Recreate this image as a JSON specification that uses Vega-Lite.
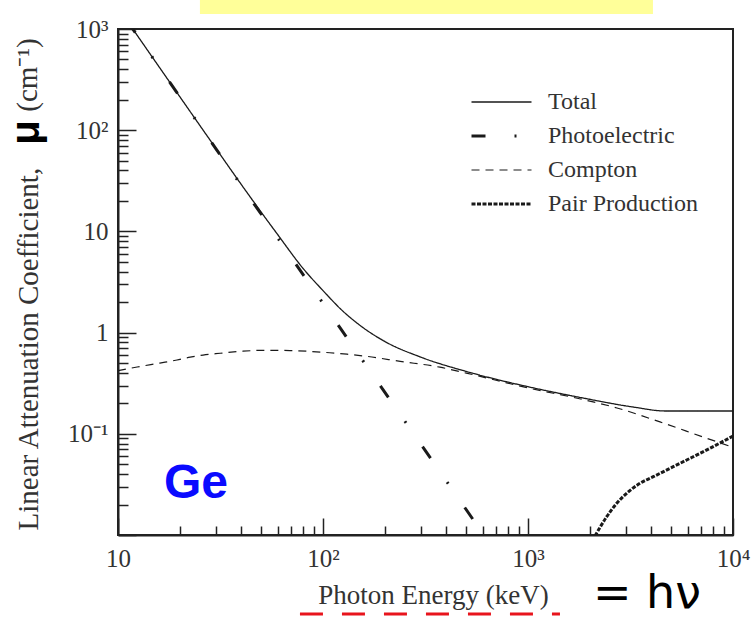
{
  "$schema": "https://vega.github.io/schema/vega-lite/v6.json",
  "width": 615,
  "height": 506,
  "autosize": "none",
  "padding": {"left": 118, "top": 29, "right": 19, "bottom": 84},
  "background": "white",
  "config": {"view": {"stroke": "#222", "strokeWidth": 2}, "font": "Liberation Serif"},
  "datasets": {
    "curves": [
      {"process": "Total", "energy": 11.1, "mu": 1197},
      {"process": "Total", "energy": 15, "mu": 497.5},
      {"process": "Total", "energy": 20, "mu": 215.1},
      {"process": "Total", "energy": 25, "mu": 112.4},
      {"process": "Total", "energy": 30, "mu": 66.3},
      {"process": "Total", "energy": 40, "mu": 28.95},
      {"process": "Total", "energy": 50, "mu": 15.44},
      {"process": "Total", "energy": 60, "mu": 9.35},
      {"process": "Total", "energy": 80, "mu": 4.3},
      {"process": "Total", "energy": 100, "mu": 2.6},
      {"process": "Total", "energy": 125, "mu": 1.63},
      {"process": "Total", "energy": 150, "mu": 1.197},
      {"process": "Total", "energy": 200, "mu": 0.818},
      {"process": "Total", "energy": 300, "mu": 0.572},
      {"process": "Total", "energy": 500, "mu": 0.413},
      {"process": "Total", "energy": 1000, "mu": 0.292},
      {"process": "Total", "energy": 1850, "mu": 0.226},
      {"process": "Total", "energy": 3250, "mu": 0.184},
      {"process": "Total", "energy": 4700, "mu": 0.168},
      {"process": "Total", "energy": 10000, "mu": 0.168},
      {"process": "Photoelectric", "energy": 11.1, "mu": 1197},
      {"process": "Photoelectric", "energy": 15, "mu": 497},
      {"process": "Photoelectric", "energy": 20, "mu": 214.6},
      {"process": "Photoelectric", "energy": 25, "mu": 111.8},
      {"process": "Photoelectric", "energy": 30, "mu": 65.7},
      {"process": "Photoelectric", "energy": 40, "mu": 28.3},
      {"process": "Photoelectric", "energy": 50, "mu": 14.77},
      {"process": "Photoelectric", "energy": 60, "mu": 8.68},
      {"process": "Photoelectric", "energy": 80, "mu": 3.74},
      {"process": "Photoelectric", "energy": 100, "mu": 1.951},
      {"process": "Photoelectric", "energy": 150, "mu": 0.597},
      {"process": "Photoelectric", "energy": 200, "mu": 0.258},
      {"process": "Photoelectric", "energy": 300, "mu": 0.0789},
      {"process": "Photoelectric", "energy": 400, "mu": 0.0341},
      {"process": "Photoelectric", "energy": 550, "mu": 0.01344},
      {"process": "Compton", "energy": 10, "mu": 0.42},
      {"process": "Compton", "energy": 12.4, "mu": 0.457},
      {"process": "Compton", "energy": 16, "mu": 0.5},
      {"process": "Compton", "energy": 19.4, "mu": 0.536},
      {"process": "Compton", "energy": 22.5, "mu": 0.572},
      {"process": "Compton", "energy": 26, "mu": 0.6},
      {"process": "Compton", "energy": 31.5, "mu": 0.625},
      {"process": "Compton", "energy": 40.7, "mu": 0.655},
      {"process": "Compton", "energy": 51, "mu": 0.668},
      {"process": "Compton", "energy": 69, "mu": 0.665},
      {"process": "Compton", "energy": 86.4, "mu": 0.652},
      {"process": "Compton", "energy": 108, "mu": 0.632},
      {"process": "Compton", "energy": 131, "mu": 0.612},
      {"process": "Compton", "energy": 164, "mu": 0.582},
      {"process": "Compton", "energy": 238, "mu": 0.52},
      {"process": "Compton", "energy": 372, "mu": 0.455},
      {"process": "Compton", "energy": 500, "mu": 0.398},
      {"process": "Compton", "energy": 1000, "mu": 0.284},
      {"process": "Compton", "energy": 1854, "mu": 0.218},
      {"process": "Compton", "energy": 2716, "mu": 0.18},
      {"process": "Compton", "energy": 4406, "mu": 0.131},
      {"process": "Compton", "energy": 7145, "mu": 0.093},
      {"process": "Compton", "energy": 10000, "mu": 0.0735},
      {"process": "Pair Production", "energy": 2123, "mu": 0.0098},
      {"process": "Pair Production", "energy": 2421, "mu": 0.01517},
      {"process": "Pair Production", "energy": 2709, "mu": 0.02056},
      {"process": "Pair Production", "energy": 3030, "mu": 0.02582},
      {"process": "Pair Production", "energy": 3518, "mu": 0.03243},
      {"process": "Pair Production", "energy": 4087, "mu": 0.03767},
      {"process": "Pair Production", "energy": 5114, "mu": 0.04732},
      {"process": "Pair Production", "energy": 5944, "mu": 0.05508},
      {"process": "Pair Production", "energy": 7723, "mu": 0.07194},
      {"process": "Pair Production", "energy": 10000, "mu": 0.0950}
    ]
  },
  "layer": [
    {
      "data": {"values": [{}]},
      "mark": {"type": "rect", "color": "#ffff99", "clip": false},
      "encoding": {
        "x": {"datum": 25.1, "type": "quantitative"},
        "x2": {"datum": 4070},
        "y": {"datum": 1936, "type": "quantitative"},
        "y2": {"datum": 1406}
      }
    },
    {
      "data": {"name": "curves"},
      "mark": {"type": "line", "clip": true, "interpolate": "monotone", "strokeCap": "butt", "color": "#1a1a1a"},
      "encoding": {
        "x": {
          "field": "energy",
          "type": "quantitative",
          "scale": {"type": "log", "domain": [10, 10000], "nice": false},
          "axis": {
            "values": [10, 20, 30, 40, 50, 60, 70, 80, 90, 100, 200, 300, 400, 500, 600, 700, 800, 900, 1000, 2000, 3000, 4000, 5000, 6000, 7000, 8000, 9000, 10000],
            "labelExpr": "datum.value == 10 ? '10' : datum.value == 100 ? '10²' : datum.value == 1000 ? '10³' : datum.value == 10000 ? '10⁴' : ''",
            "tickSize": {"condition": {"test": "indexof([10, 100, 1000, 10000], datum.value) >= 0", "value": -17}, "value": -9},
            "tickWidth": 1.5,
            "tickColor": "#222",
            "domainColor": "#222",
            "domainWidth": 2,
            "grid": false,
            "labelFont": "Liberation Serif",
            "labelFontSize": 25,
            "labelColor": "#333",
            "labelPadding": 28,
            "labelOverlap": false,
            "labelFlush": false,
            "labelBound": false,
            "title": "Photon Energy (keV)",
            "titleFont": "Liberation Serif",
            "titleFontSize": 27,
            "titleFontWeight": "normal",
            "titleColor": "#333",
            "titleX": 315,
            "titleY": 68,
            "titleAlign": "center",
            "titleBaseline": "alphabetic"
          }
        },
        "y": {
          "field": "mu",
          "type": "quantitative",
          "scale": {"type": "log", "domain": [0.01, 1000], "nice": false},
          "axis": {
            "values": [0.01, 0.02, 0.03, 0.04, 0.05, 0.06, 0.07, 0.08, 0.09, 0.1, 0.2, 0.3, 0.4, 0.5, 0.6, 0.7, 0.8, 0.9, 1, 2, 3, 4, 5, 6, 7, 8, 9, 10, 20, 30, 40, 50, 60, 70, 80, 90, 100, 200, 300, 400, 500, 600, 700, 800, 900, 1000],
            "labelExpr": "datum.value == 1000 ? '10³' : datum.value == 100 ? '10²' : datum.value == 10 ? '10' : datum.value == 1 ? '1' : datum.value == 0.1 ? '10⁻¹' : ''",
            "tickSize": {"condition": {"test": "indexof([0.01, 0.1, 1, 10, 100, 1000], datum.value) >= 0", "value": -18}, "value": -10},
            "tickWidth": 1.5,
            "tickColor": "#222",
            "domainColor": "#222",
            "domainWidth": 2,
            "grid": false,
            "labelFont": "Liberation Serif",
            "labelFontSize": 25,
            "labelColor": "#333",
            "labelPadding": 28,
            "labelOverlap": false,
            "labelBound": false,
            "labelFlush": false,
            "title": "Linear Attenuation Coefficient,",
            "titleFont": "Liberation Serif",
            "titleFontSize": 29,
            "titleFontWeight": "normal",
            "titleColor": "#333",
            "titleX": -81,
            "titleY": 501,
            "titleAngle": -90,
            "titleAlign": "left",
            "titleBaseline": "alphabetic"
          }
        },
        "strokeDash": {
          "field": "process",
          "type": "nominal",
          "scale": {"domain": ["Total", "Photoelectric", "Compton", "Pair Production"], "range": [[1, 0], [14, 29, 2, 29], [8, 6], [4, 1.5]]},
          "legend": {
            "title": null,
            "orient": "none",
            "legendX": 352,
            "legendY": 61,
            "symbolType": "stroke",
            "symbolSize": 3600,
            "symbolStrokeColor": "#1a1a1a",
            "labelFont": "Liberation Serif",
            "labelFontSize": 24,
            "labelColor": "#333",
            "labelOffset": 15,
            "clipHeight": 24,
            "rowPadding": 10,
            "padding": 0
          }
        },
        "strokeWidth": {
          "field": "process",
          "type": "nominal",
          "scale": {"type": "ordinal", "domain": ["Total", "Photoelectric", "Compton", "Pair Production"], "range": [1.3, 3, 1.2, 3]},
          "legend": {
            "title": null,
            "orient": "none",
            "legendX": 352,
            "legendY": 61,
            "symbolType": "stroke",
            "symbolSize": 3600,
            "symbolStrokeColor": "#1a1a1a",
            "labelFont": "Liberation Serif",
            "labelFontSize": 24,
            "labelColor": "#333",
            "labelOffset": 15,
            "clipHeight": 24,
            "rowPadding": 10,
            "padding": 0
          }
        }
      }
    },
    {
      "data": {"values": [{}]},
      "mark": {"type": "text", "text": "μ", "font": "Liberation Sans", "fontWeight": "bold", "fontSize": 40, "color": "#000000", "angle": 270, "align": "center", "baseline": "alphabetic", "clip": false},
      "encoding": {
        "x": {"datum": 4.12, "type": "quantitative"},
        "y": {"datum": 94.8, "type": "quantitative"}
      }
    },
    {
      "data": {"values": [{}]},
      "mark": {"type": "text", "text": "(cm⁻¹)", "font": "Liberation Serif", "fontSize": 29, "color": "#333333", "angle": 270, "align": "center", "baseline": "alphabetic", "clip": false},
      "encoding": {
        "x": {"datum": 4.03, "type": "quantitative"},
        "y": {"datum": 351, "type": "quantitative"}
      }
    },
    {
      "data": {"values": [{}]},
      "mark": {"type": "text", "text": "Ge", "font": "Liberation Sans", "fontWeight": "bold", "fontSize": 48, "color": "#0a0aff", "align": "center", "baseline": "alphabetic"},
      "encoding": {
        "x": {"datum": 24, "type": "quantitative"},
        "y": {"datum": 0.0232, "type": "quantitative"}
      }
    },
    {
      "data": {"values": [{}]},
      "mark": {"type": "text", "text": "= hν", "font": "DejaVu Sans", "fontSize": 46, "color": "#000000", "align": "center", "baseline": "alphabetic", "clip": false},
      "encoding": {
        "x": {"datum": 3802, "type": "quantitative"},
        "y": {"datum": 0.0019, "type": "quantitative"}
      }
    },
    {
      "data": {"values": [{}]},
      "mark": {"type": "rule", "color": "#e8141c", "strokeWidth": 3, "strokeDash": [23, 19], "clip": false},
      "encoding": {
        "x": {"datum": 77.2, "type": "quantitative"},
        "x2": {"datum": 1432},
        "y": {"datum": 0.001657, "type": "quantitative"}
      }
    }
  ]
}
